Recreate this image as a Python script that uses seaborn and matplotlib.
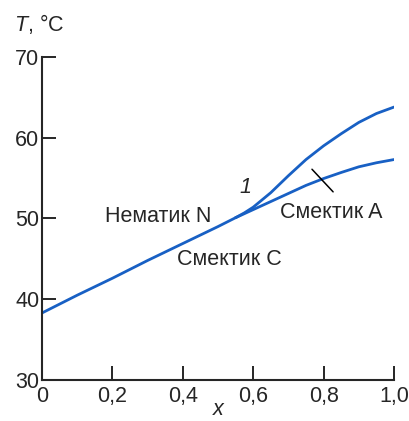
import numpy as np
import pandas as pd
import seaborn as sns
import matplotlib
matplotlib.use("Agg")
import matplotlib.pyplot as plt

# common nematic-smectic C boundary
x_common = [0.0, 0.1, 0.2, 0.3, 0.4, 0.5, 0.55]
T_common = [38.3, 40.5, 42.6, 44.8, 46.9, 49.0, 50.1]

# branches after the triple point
x_branch = [0.55, 0.575, 0.6, 0.65, 0.7, 0.75, 0.8, 0.85, 0.9, 0.95, 1.0]
# lower branch (smectic C - smectic A)
T_lower = [50.1, 50.6, 51.1, 52.1, 53.1, 54.1, 54.95, 55.7, 56.4, 56.9, 57.3]
# upper branch (curve 1, nematic - smectic A)
T_upper = [50.1, 50.7, 51.4, 53.2, 55.3, 57.3, 59.0, 60.5, 61.9, 63.0, 63.8]

xticks = [0, 0.2, 0.4, 0.6, 0.8, 1.0]
xticklabels = ["0", "0,2", "0,4", "0,6", "0,8", "1,0"]
yticks = [30, 40, 50, 60, 70]

sns.set_style("ticks")
plt.rcParams["font.family"] = ["Liberation Sans", "DejaVu Sans"]
plt.rcParams["mathtext.fontset"] = "custom"
plt.rcParams["mathtext.it"] = "Liberation Sans:italic"
plt.rcParams["mathtext.rm"] = "Liberation Sans"

blue = "#1860c4"
fs = 15.5

fig = plt.figure(figsize=(4.10, 4.21), dpi=100)
ax = fig.add_axes([0.1024, 0.0974, 0.8586, 0.7672])

sns.lineplot(x=x_common, y=T_common, ax=ax, color=blue, lw=2.0, sort=False)
sns.lineplot(x=x_branch, y=T_lower, ax=ax, color=blue, lw=2.0, sort=False)
sns.lineplot(x=x_branch, y=T_upper, ax=ax, color=blue, lw=2.0, sort=False)

# small black tick across the lower branch
ax.plot([0.767, 0.827], [56.1, 53.3], color="black", lw=1.1)

ax.set_xlim(0, 1.0)
ax.set_ylim(30, 70)
ax.set_xticks(xticks)
ax.set_xticklabels(xticklabels)
ax.set_yticks(yticks)
sns.despine(ax=ax)
for s in ["left", "bottom"]:
    ax.spines[s].set_linewidth(1.5)
ax.tick_params(direction="in", length=10, width=1.4, labelsize=fs)
ax.tick_params(axis="x", pad=4)
ax.tick_params(axis="y", pad=2)
ax.set_xlabel("")
ax.set_ylabel("")

ax.text(0.5, 26.3, "x", style="italic", fontsize=fs, ha="center", va="center",
        transform=ax.transData, clip_on=False)
fig.text(0.034, 0.943, "$T$, °C", fontsize=fs, ha="left", va="center")

ax.text(0.179, 50.3, "Нематик N", fontsize=fs, ha="left", va="center")
ax.text(0.384, 44.9, "Смектик C", fontsize=fs, ha="left", va="center")
ax.text(0.676, 50.8, "Смектик A", fontsize=fs, ha="left", va="center")
ax.text(0.577, 53.8, "1", style="italic", fontsize=fs, ha="center", va="center")

fig.savefig("out.png", dpi=100)
